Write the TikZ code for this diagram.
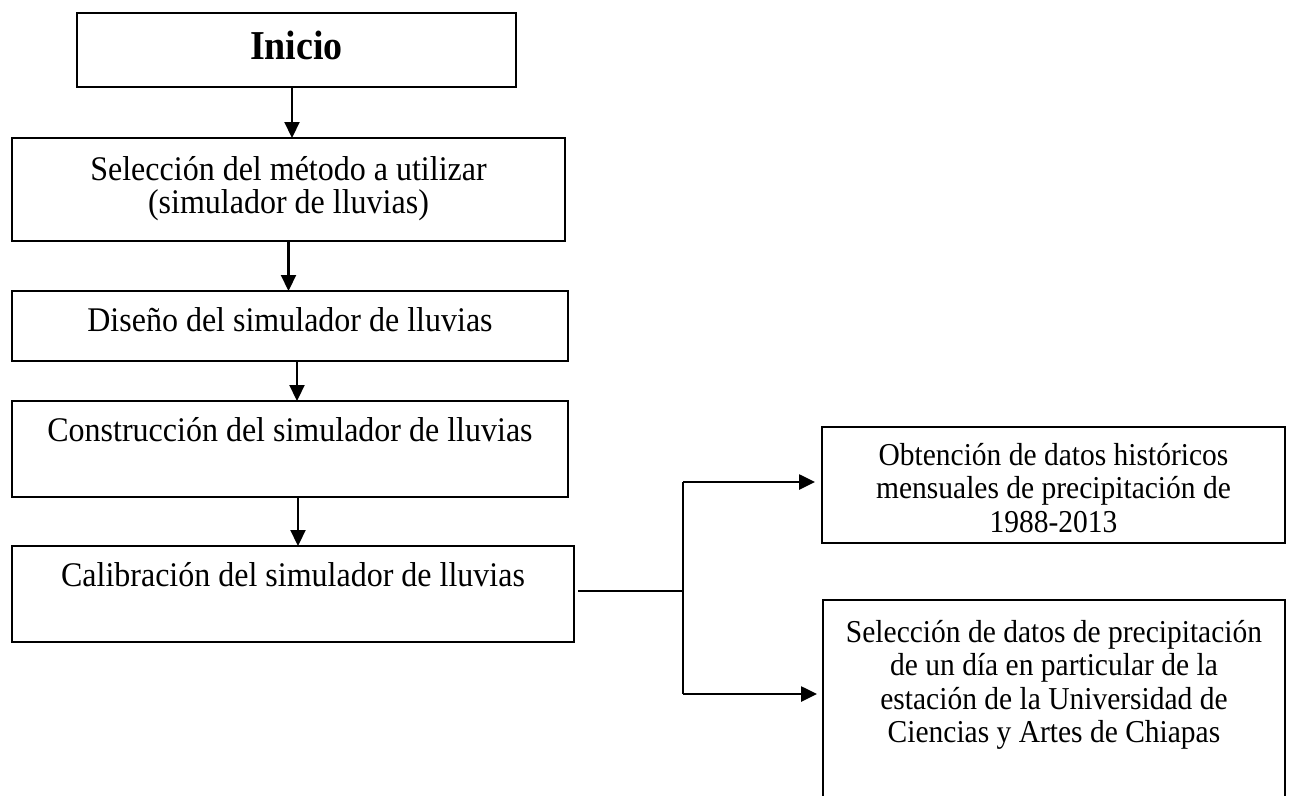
\documentclass[tikz,border=0pt]{standalone}
\usepackage{fontspec}
\usepackage{graphicx}
\setmainfont{Liberation Serif}
\usetikzlibrary{arrows.meta}
\lineskiplimit=-100pt
\newcommand{\vst}[1]{\scalebox{1}[1.08]{#1}}
\tikzset{
  boxnode/.style={draw=black, line width=1.4pt, rectangle, inner sep=0pt, outer sep=0pt, fill=none},
  lbl/.style={inner sep=0pt, outer sep=0pt, align=center, anchor=base},
  lfont/.style={font=\fontsize{32}{33.5}\selectfont},
  rfont/.style={font=\fontsize{29.5}{33.5}\selectfont},
  arr/.style={line width=2.2pt, -{Triangle[length=16pt,width=15pt]}},
  harr/.style={line width=2.6pt, -{Triangle[length=16pt,width=15pt]}},
  conn/.style={line width=2.2pt}
}
\begin{document}
\begin{tikzpicture}[x=1pt,y=-1pt]
\useasboundingbox[fill=white] (0,0) rectangle (1289,795);
\clip (0,0) rectangle (1289,795);
% boxes
\node[boxnode, minimum width=439pt, minimum height=74pt] (inicio) at (296.5,50) {};
\node[boxnode, minimum width=553pt, minimum height=103pt] (sel) at (288.5,189.5) {};
\node[boxnode, minimum width=556pt, minimum height=70pt] (dis) at (290,326) {};
\node[boxnode, minimum width=556pt, minimum height=96pt] (con) at (290,449) {};
\node[boxnode, minimum width=562pt, minimum height=96pt] (cal) at (293,594) {};
\node[boxnode, minimum width=463pt, minimum height=116pt] (obt) at (1053.5,485) {};
\node[boxnode, minimum width=462pt, minimum height=240pt] (sdp) at (1054,720) {};
% texts (base anchor = baseline of the last line)
\node[lbl, font=\fontsize{38}{41}\selectfont\bfseries] (tinicio) at (296.5,59) {\vst{Inicio}};
\node[lbl, lfont] (tsel) at (288.5,213.5) {\vst{Selección del método a utilizar}\\\vst{(simulador de lluvias)}};
\node[lbl, lfont] (tdis) at (290,331) {\vst{Diseño del simulador de lluvias}};
\node[lbl, lfont] (tcon) at (290,441) {\vst{Construcción del simulador de lluvias}};
\node[lbl, lfont] (tcal) at (293,586) {\vst{Calibración del simulador de lluvias}};
\node[lbl, rfont] (tobt) at (1053.5,532) {\vst{Obtención de datos históricos}\\\vst{mensuales de precipitación de}\\\vst{1988-2013}};
\node[lbl, rfont] (tsdp) at (1054,742.5) {\vst{Selección de datos de precipitación}\\\vst{de un día en particular de la}\\\vst{estación de la Universidad de}\\\vst{Ciencias y Artes de Chiapas}};
% vertical arrows
\draw[arr] ([xshift=-4.5pt]inicio.south) -- ([xshift=-4.5pt]inicio.south |- sel.north);
\draw[arr] (sel.south) -- (sel.south |- dis.north);
\draw[arr] ([xshift=7pt]dis.south) -- ([xshift=7pt]dis.south |- con.north);
\draw[arr] ([xshift=8pt]con.south) -- ([xshift=8pt]con.south |- cal.north);
% branch connector
\coordinate (jn) at ([yshift=3pt]cal.east -| 683,0);
\coordinate (top) at (683,482);
\coordinate (bot) at (683,694);
\draw[conn, shorten <=4pt] ([yshift=3pt]cal.east) -- (jn);
\draw[conn] (top) -- (bot);
\draw[harr, shorten >=7pt] (top) -- (top -| obt.west);
\draw[harr, shorten >=6pt] (bot) -- (bot -| sdp.west);
\end{tikzpicture}
\end{document}
